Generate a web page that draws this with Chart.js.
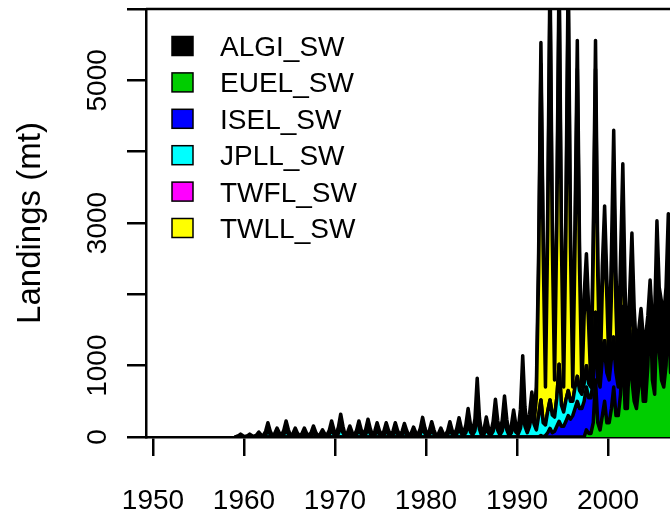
<!DOCTYPE html>
<html>
<head>
<meta charset="utf-8">
<script src="https://cdn.jsdelivr.net/npm/chart.js"></script>
<style>
  html, body { margin: 0; padding: 0; background: #ffffff; }
  #wrap { width: 670px; height: 515px; }
</style>
</head>
<body>
<div id="wrap"><canvas id="landings" width="670" height="515"></canvas></div>
<script>
// Débarquements trimestriels par flottille (mt), 1959-2007, 4 valeurs par an
const firstYear = 1959;
const lastYear = 2007;

const fleets = ['ALGI_SW', 'EUEL_SW', 'ISEL_SW', 'JPLL_SW', 'TWFL_SW', 'TWLL_SW'];
const fleetColors = ['#000000', '#00CD00', '#0000FF', '#00FFFF', '#FF00FF', '#FFFF00'];

const xTickLabels = [1950, 1960, 1970, 1980, 1990, 2000];
const yTickLabels = [0, 1000, 3000, 5000];

const ALGI_SW = [
  3,10,22,10, 3,10,22,10,        // 1959-60
  5,18,40,18, 14,50,110,50,      // 1961-62
  9,31,54,31, 16,56,100,56,      // 1963-64
  9,31,69,31, 9,31,69,31,        // 1965-66
  11,39,85,39, 7,25,55,25,       // 1967-68
  16,56,105,56, 22,80,135,80,    // 1969-70
  11,39,85,39, 16,56,95,56,      // 1971-72
  18,62,100,62, 14,50,90,50,     // 1973-74
  14,50,80,50, 14,50,90,50,      // 1975-76
  13,48,75,48, 10,35,77,35,      // 1977-78
  19,69,100,69, 15,54,90,54,     // 1979-80
  9,31,69,31, 15,54,120,54,      // 1981-82
  19,68,110,68, 28,100,200,100,  // 1983-84
  40,150,455,150, 20,70,155,70,  // 1985-86
  35,130,260,130, 40,140,285,140, // 1987-88
  27,95,190,95, 60,250,720,250,  // 1989-90
  60,150,260,150, 150,300,300,200, // 1991-92
  200,300,400,250, 200,300,400,250, // 1993-94
  200,300,400,250, 200,300,400,250, // 1995-96
  200,300,300,250, 200,300,400,250, // 1997-98
  200,300,400,250, 300,600,600,500, // 1999-2000
  400,700,800,600, 400,300,1000,700, // 2001-02
  630,570,520,730, 800,570,120,700,  // 2003-04
  1000,1130,770,1000, 900,970,1230,1000, // 2005-06
  800,970,1270,1000                      // 2007
];

const EUEL_SW = [
  0,0,0,0, 0,0,0,0, 0,0,0,0, 0,0,0,0, // 1959-62
  0,0,0,0, 0,0,0,0, 0,0,0,0, 0,0,0,0, // 1963-66
  0,0,0,0, 0,0,0,0, 0,0,0,0, 0,0,0,0, // 1967-70
  0,0,0,0, 0,0,0,0, 0,0,0,0, 0,0,0,0, // 1971-74
  0,0,0,0, 0,0,0,0, 0,0,0,0, 0,0,0,0, // 1975-78
  0,0,0,0, 0,0,0,0, 0,0,0,0, 0,0,0,0, // 1979-82
  0,0,0,0, 0,0,0,0, 0,0,0,0, 0,0,0,0, // 1983-86
  0,0,0,0, 0,0,0,0, 0,0,0,0, 0,0,0,0, // 1987-90
  0,0,0,0, 0,0,0,0, 0,0,0,0, 0,0,0,0, // 1991-94
  0,0,0,0, 0,0,0,0,                   // 1995-96
  0,0,100,50, 50,200,800,200,         // 1997-98
  100,300,500,200, 200,400,700,300,   // 1999-2000
  300,600,1350,400, 400,1250,800,500, // 2001-02
  400,700,1000,500, 500,1000,1950,800, // 2003-04
  600,1770,1200,800, 700,1000,1770,900, // 2005-06
  800,1200,1500,900                   // 2007
];

const ISEL_SW = [
  0,0,0,0, 0,0,0,0, 0,0,0,0, 0,0,0,0, // 1959-62
  0,0,0,0, 0,0,0,0, 0,0,0,0, 0,0,0,0, // 1963-66
  0,0,0,0, 0,0,0,0, 0,0,0,0, 0,0,0,0, // 1967-70
  0,0,0,0, 0,0,0,0, 0,0,0,0, 0,0,0,0, // 1971-74
  0,0,0,0, 0,0,0,0, 0,0,0,0, 0,0,0,0, // 1975-78
  0,0,0,0, 0,0,0,0, 0,0,0,0, 0,0,0,0, // 1979-82
  0,0,0,0, 0,0,0,0, 0,0,0,0, 0,0,0,0, // 1983-86
  0,0,0,0, 0,0,0,0, 0,0,0,0, 0,0,0,0, // 1987-90
  0,0,0,0,                            // 1991
  0,0,20,0, 20,60,120,60,             // 1992-93
  80,150,220,150, 150,220,300,250,    // 1994-95
  300,400,500,400, 400,500,600,500,   // 1996-97
  500,600,700,600, 600,800,700,700,   // 1998-99
  600,700,600,600, 400,500,400,400,   // 2000-01
  200,200,200,150, 100,150,150,100,   // 2002-03
  80,100,100,80, 80,100,100,80,       // 2004-05
  80,100,100,80, 80,100,100,80        // 2006-07
];

const JPLL_SW = [
  2,6,18,7, 2,6,18,7,            // 1959-60
  4,10,30,12, 10,30,90,36,       // 1961-62
  6,19,56,22, 11,34,100,40,      // 1963-64
  6,19,56,22, 6,19,56,22,        // 1965-66
  8,23,70,28, 5,15,45,18,        // 1967-68
  11,34,100,40, 16,48,145,58,    // 1969-70
  8,23,70,28, 11,34,100,40,      // 1971-72
  12,38,110,45, 10,30,90,36,     // 1973-74
  10,30,90,36, 10,30,90,36,      // 1975-76
  10,28,85,34, 7,21,63,25,       // 1977-78
  14,41,125,50, 11,32,95,39,     // 1979-80
  6,19,56,22, 11,32,95,39,       // 1981-82
  14,40,120,49, 20,60,180,72,    // 1983-84
  30,90,330,110, 14,42,125,50,   // 1985-86
  25,80,240,95, 28,86,260,100,   // 1987-88
  19,57,170,68, 40,120,320,150,  // 1989-90
  60,150,320,180, 100,300,500,200, // 1991-92
  150,300,400,250, 200,400,800,300, // 1993-94
  200,300,350,250, 200,300,350,250, // 1995-96
  200,250,300,200, 150,200,250,150, // 1997-98
  100,150,150,100, 80,100,100,80,   // 1999-2000
  50,80,80,50, 30,50,50,30,         // 2001-02
  20,30,30,20, 20,30,30,20,         // 2003-04
  20,30,30,20, 20,30,30,20,         // 2005-06
  20,30,30,20                       // 2007
];

const TWFL_SW = [
  0,0,0,0, 0,0,0,0, 0,0,0,0, 0,0,0,0, // 1959-62
  0,0,0,0, 0,0,0,0, 0,0,0,0, 0,0,0,0, // 1963-66
  0,0,0,0, 0,0,0,0, 0,0,0,0, 0,0,0,0, // 1967-70
  0,0,0,0, 0,0,0,0, 0,0,0,0, 0,0,0,0, // 1971-74
  0,0,0,0, 0,0,0,0, 0,0,0,0, 0,0,0,0, // 1975-78
  0,0,0,0, 0,0,0,0, 0,0,0,0, 0,0,0,0, // 1979-82
  0,0,0,0, 0,0,0,0, 0,0,0,0, 0,0,0,0, // 1983-86
  0,0,0,0, 0,0,0,0, 0,0,0,0, 0,0,0,0, // 1987-90
  0,0,0,0, 0,0,0,0, 0,0,0,0, 0,0,0,0, // 1991-94
  0,0,0,0, 0,0,0,0, 0,0,0,0, 0,0,0,0, // 1995-98
  0,0,0,0, 0,0,0,0, 0,0,0,0, 0,0,0,0, // 1999-2002
  0,0,0,0, 0,0,0,0, 0,0,0,0, 0,0,0,0, // 2003-06
  0,0,0,0                             // 2007
];

const TWLL_SW = [
  0,0,0,0, 0,0,0,0,              // 1959-60
  0,0,0,0, 0,0,0,0,              // 1961-62
  0,0,15,5, 0,5,25,5,            // 1963-64
  0,0,0,0, 0,0,0,0,              // 1965-66
  0,0,0,0, 0,0,0,0,              // 1967-68
  0,5,20,5, 0,10,40,10,          // 1969-70
  0,0,0,0, 0,5,30,5,             // 1971-72
  0,10,40,10, 0,5,20,5,          // 1973-74
  0,5,30,10, 0,5,20,5,           // 1975-76
  0,5,30,10, 0,0,0,0,            // 1977-78
  0,10,50,10, 0,5,30,5,          // 1979-80
  0,0,0,0, 0,0,0,0,              // 1981-82
  0,10,40,10, 0,10,20,10,        // 1983-84
  0,10,40,10, 0,0,0,0,           // 1985-86
  0,10,30,10, 0,10,30,10,        // 1987-88
  0,5,20,5, 0,20,100,20,         // 1989-90
  0,20,50,20, 450,2000,4710,2400,          // 1991-92
  530,2540,5680,2440, 520,2450,5180,2300,  // 1993-94
  350,2380,5550,2150, 200,2000,4310,1700,  // 1995-96
  100,950,1270,800, 0,1500,3410,1300,      // 1997-98
  0,850,1490,950, 0,800,2300,820,          // 1999-2000
  0,620,1200,650, 70,200,810,420,          // 2001-02
  50,50,100,50, 0,0,0,0,                   // 2003-04
  0,0,0,0, 0,0,0,0,                        // 2005-06
  0,0,0,0                                  // 2007
];

const seriesValues = [ALGI_SW, EUEL_SW, ISEL_SW, JPLL_SW, TWFL_SW, TWLL_SW];
// ordre d'empilement, du bas vers le haut
const stackOrder = [1, 2, 3, 4, 5, 0];

// milieu de chaque trimestre
const quarterTimes = [];
for (let y = firstYear; y <= lastYear; y++) {
  for (let q = 0; q < 4; q++) quarterTimes.push(y + 0.125 + q * 0.25);
}

const fontFamily = "'Liberation Sans', Arial, Helvetica, sans-serif";

const datasets = stackOrder.map((i, k) => ({
  label: fleets[i],
  data: seriesValues[i].map((v, j) => ({ x: quarterTimes[j], y: v })),
  backgroundColor: fleetColors[i],
  borderColor: '#000000',
  borderWidth: 3.5,
  borderJoinStyle: 'round',
  borderCapStyle: 'round',
  fill: k === 0 ? 'origin' : '-1',
  pointRadius: 0,
  tension: 0
}));

// axes, titre et légende façon R
const rDecor = {
  id: 'rDecor',
  afterDraw(chart) {
    const ctx = chart.ctx;
    const area = chart.chartArea;
    const xs = chart.scales.x;
    const ys = chart.scales.y;
    ctx.save();
    ctx.strokeStyle = '#000';
    ctx.lineWidth = 2.5;
    ctx.beginPath();
    ctx.moveTo(area.left, area.top);
    ctx.lineTo(area.right, area.top);
    ctx.stroke();

    ctx.fillStyle = '#000';
    ctx.font = `28px ${fontFamily}`;
    ctx.textAlign = 'center';
    ctx.textBaseline = 'alphabetic';
    xTickLabels.forEach(v => {
      ctx.fillText(String(v), xs.getPixelForValue(v), 509);
    });
    yTickLabels.forEach(v => {
      ctx.save();
      ctx.translate(106, ys.getPixelForValue(v));
      ctx.rotate(-Math.PI / 2);
      ctx.fillText(String(v), 0, 0);
      ctx.restore();
    });

    ctx.save();
    ctx.font = `33px ${fontFamily}`;
    ctx.translate(40, (area.top + area.bottom) / 2);
    ctx.rotate(-Math.PI / 2);
    ctx.fillText('Landings (mt)', 0, 0);
    ctx.restore();

    ctx.font = `28px ${fontFamily}`;
    ctx.textAlign = 'left';
    fleets.forEach((name, i) => {
      const cy = 46 + i * 36.4;
      ctx.fillStyle = fleetColors[i];
      ctx.fillRect(172, cy - 9.5, 21, 19);
      ctx.lineWidth = 1.5;
      ctx.strokeStyle = '#000';
      ctx.strokeRect(172, cy - 9.5, 21, 19);
      ctx.fillStyle = '#000';
      ctx.fillText(name, 220, cy + 10);
    });
    ctx.restore();
  }
};

new Chart(document.getElementById('landings').getContext('2d'), {
  type: 'line',
  data: { datasets: datasets },
  options: {
    responsive: false,
    animation: false,
    events: [],
    layout: { padding: { top: 9, right: 0, left: 0, bottom: 0 } },
    plugins: {
      legend: { display: false },
      tooltip: { enabled: false }
    },
    scales: {
      x: {
        type: 'linear',
        min: 1949.23,
        max: 2006.81,
        ticks: { display: false, stepSize: 10, includeBounds: false },
        grid: { drawOnChartArea: false, color: '#000', lineWidth: 2.5, tickLength: 19 },
        border: { color: '#000', width: 2.5 },
        afterFit: s => { s.height = 78; }
      },
      y: {
        stacked: true,
        min: 0,
        max: 6000,
        ticks: { display: false, stepSize: 1000 },
        grid: { drawOnChartArea: false, color: '#000', lineWidth: 2.5, tickLength: 19 },
        border: { color: '#000', width: 2.5 },
        afterFit: s => { s.width = 146; }
      }
    }
  },
  plugins: [rDecor]
});
</script>
</body>
</html>
